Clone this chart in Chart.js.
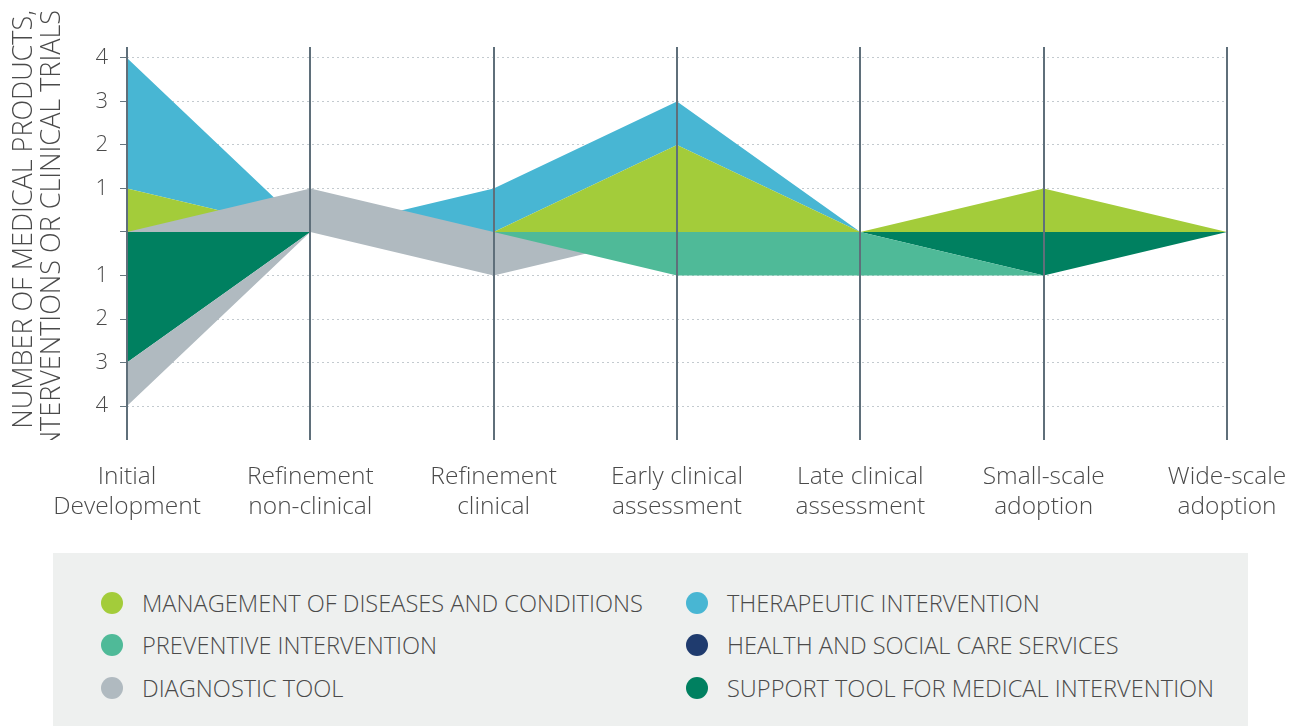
<!DOCTYPE html>
<html>
<head>
<meta charset="utf-8">
<script src="https://cdn.jsdelivr.net/npm/chart.js@4.4.1/dist/chart.umd.min.js"></script>
<style>
body { margin: 0; background: #fff; font-family: 'Open Sans', sans-serif; }
#wrap { position: absolute; left: 0; top: 0; width: 1301px; height: 553px; }
#ytitle { position: absolute; left: 0; top: 0; width: 72px; height: 440px; overflow: hidden; }
#ytitle div {
    position: absolute; left: 0; top: 540px; width: 540px;
    transform-origin: 0 0; transform: rotate(-90deg);
    text-align: right; padding-right: 10px; padding-top: 8px; box-sizing: border-box;
    font-weight: 300; font-size: 27px; line-height: 28px; color: #4a4a4a; white-space: nowrap;
}
#legend { position: absolute; left: 53px; top: 553px; width: 1195px; height: 173px; background: #eef0ef; }
.item { position: absolute; height: 30px; display: flex; align-items: center;
    font-weight: 300; font-size: 23.6px; color: #4a4a4a; white-space: nowrap; }
.dot { width: 22px; height: 22px; border-radius: 50%; margin-right: 19px; flex: none; }
</style>
</head>
<body>
<div id="wrap"><canvas id="chart"></canvas></div>
<div id="ytitle"><div>NUMBER OF MEDICAL PRODUCTS,<br>INTERVENTIONS OR CLINICAL TRIALS</div></div>
<div id="legend"></div>
<script>
var stages = [
    ['Initial', 'Development'],
    ['Refinement', 'non-clinical'],
    ['Refinement', 'clinical'],
    ['Early clinical', 'assessment'],
    ['Late clinical', 'assessment'],
    ['Small-scale', 'adoption'],
    ['Wide-scale', 'adoption']
];
var yTicks = [-4, -3, -2, -1, 0, 1, 2, 3, 4];

// counts drawn above the zero line
var management = [1, 0, 0, 2, 0, 1, 0];
var therapeutic = [3, 0, 1, 1, 0, 0, 0];
var diagnosticAbove = [0, 1, 0, 0, 0, 0, 0];
// counts drawn below the zero line
var supportTool = [3, 0, 0, 0, 0, 1, 0];
var diagnosticBelow = [1, 0, 1, 0, 0, 0, 0];
var preventive = [0, 0, 0, 1, 1, 0, 0];
var healthServices = [0, 0, 0, 0, 0, 0, 0];

var names = {
    management: 'MANAGEMENT OF DISEASES AND CONDITIONS',
    therapeutic: 'THERAPEUTIC INTERVENTION',
    preventive: 'PREVENTIVE INTERVENTION',
    health: 'HEALTH AND SOCIAL CARE SERVICES',
    diagnostic: 'DIAGNOSTIC TOOL',
    support: 'SUPPORT TOOL FOR MEDICAL INTERVENTION'
};
var colors = {
    management: '#a3cc3a',
    therapeutic: '#48b6d3',
    preventive: '#4fba98',
    health: '#1f3b6e',
    diagnostic: '#b0bac0',
    support: '#008060'
};
var legendOrder = ['management', 'therapeutic', 'preventive', 'health', 'diagnostic', 'support'];

function add(a, b) { return a.map(function (v, i) { return v + b[i]; }); }
function neg(a) { return a.map(function (v) { return -v; }); }

function band(label, key, data, fill, order) {
    return {
        label: label, data: data, fill: fill, order: order,
        backgroundColor: colors[key], borderColor: 'rgba(0,0,0,0)', borderWidth: 0,
        pointRadius: 0, tension: 0
    };
}

var labelFont = { family: 'Open Sans', weight: 300, size: 24.5, lineHeight: 1.22 };

var ctx = document.getElementById('chart');
var myChart = new Chart(ctx, {
    type: 'line',
    data: {
        labels: stages,
        datasets: [
            band(names.management, 'management', management, 'origin', 3),
            band(names.therapeutic, 'therapeutic', add(management, therapeutic), 0, 4),
            band(names.diagnostic, 'diagnostic', diagnosticAbove, 'origin', 0),
            band(names.support, 'support', neg(supportTool), 'origin', 5),
            band(names.diagnostic, 'diagnostic', neg(add(supportTool, diagnosticBelow)), 3, 2),
            band(names.preventive, 'preventive', neg(add(supportTool, preventive)), 3, 1),
            band(names.health, 'health', neg(healthServices), false, 6)
        ]
    },
    options: {
        responsive: true,
        maintainAspectRatio: false,
        animation: false,
        layout: { padding: { top: 47, right: 74, bottom: 0, left: 0 } },
        plugins: { legend: { display: false }, tooltip: { enabled: false } },
        scales: {
            x: {
                offset: false,
                grid: { color: '#5f6f7a', lineWidth: 2, tickLength: 10, tickColor: 'rgba(0,0,0,0)', z: 1 },
                border: { display: false },
                ticks: { font: labelFont, color: '#4a4a4a', padding: 12, maxRotation: 0, autoSkip: false },
                afterFit: function (scale) { scale.height = 113; }
            },
            y: {
                min: -4.78,
                max: 4.25,
                afterBuildTicks: function (scale) {
                    scale.ticks = yTicks.map(function (v) { return { value: v }; });
                },
                grid: {
                    color: function (c) { return c.tick && c.tick.value === 0 ? 'rgba(0,0,0,0)' : '#c3cacf'; },
                    tickColor: '#66767f',
                    tickLength: 7,
                    tickBorderDash: [],
                    lineWidth: 1
                },
                border: { display: false, dash: [2, 3] },
                ticks: {
                    callback: function (v) { return v === 0 ? '' : Math.abs(v); },
                    padding: 12,
                    font: { family: 'Open Sans', weight: 300, size: 22 },
                    color: '#4a4a4a'
                },
                afterFit: function (scale) { scale.width = 127; }
            }
        }
    }
});

// legend in two columns
var legend = document.getElementById('legend');
legendOrder.forEach(function (key, i) {
    var item = document.createElement('div');
    item.className = 'item';
    item.style.left = (i % 2 === 0 ? 48 : 633) + 'px';
    item.style.top = ([50, 92, 135][Math.floor(i / 2)] - 15) + 'px';
    var dot = document.createElement('span');
    dot.className = 'dot';
    dot.style.background = colors[key];
    item.appendChild(dot);
    item.appendChild(document.createTextNode(names[key]));
    legend.appendChild(item);
});
</script>
</body>
</html>
